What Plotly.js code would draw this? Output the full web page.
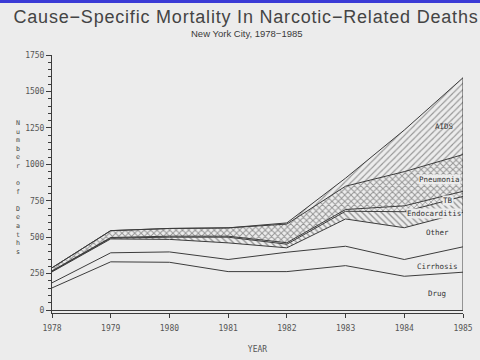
<!DOCTYPE html>
<html>
<head>
<meta charset="utf-8">
<script src="https://cdn.plot.ly/plotly-3.0.1.min.js"></script>
<style>
html,body{margin:0;padding:0;background:#ececec;}
#chart{width:480px;height:360px;position:relative;}
#bar{position:absolute;left:0;top:0;width:480px;height:3px;background:#3b3bd6;z-index:10;}
#chart .gtitle{letter-spacing:0.8px;}
</style>
</head>
<body>
<div id="bar"></div>
<div id="chart"></div>
<script>
// ---- data ----
const years = [1978, 1979, 1980, 1981, 1982, 1983, 1984, 1985];
const drug         = [152, 331, 328, 264, 264, 305, 232, 260];
const cirrhosis    = [35, 62, 71, 83, 133, 133, 115, 174];
const other        = [75, 95, 86, 114, 30, 187, 218, 236];
const endocarditis = [4, 6, 15, 39, 25, 53, 110, 110];
const tb           = [3, 4, 7, 7, 10, 12, 40, 35];
const pneumonia    = [21, 47, 53, 57, 128, 160, 235, 252];
const aids         = [0, 0, 0, 0, 8, 55, 285, 527];
const yTicks = [0, 250, 500, 750, 1000, 1250, 1500, 1750];
const seriesNames = ['Drug', 'Cirrhosis', 'Other', 'Endocarditis', 'TB', 'Pneumonia', 'AIDS'];

const ink = '#3c3c3c';
const bg = '#ececec';
const mono = 'DejaVu Sans Mono, monospace';

function layer(name, vals, pattern) {
  const t = {
    x: years, y: vals, name: name, type: 'scatter', mode: 'lines',
    stackgroup: 'one', line: {color: ink, width: 1},
    fillcolor: 'rgba(0,0,0,0)', hoverinfo: 'skip'
  };
  if (pattern) t.fillpattern = Object.assign({fgcolor: '#3a3a3a', bgcolor: 'rgba(0,0,0,0)', fillmode: 'overlay'}, pattern);
  return t;
}

const data = [
  layer(seriesNames[0], drug),
  layer(seriesNames[1], cirrhosis),
  layer(seriesNames[2], other),
  layer(seriesNames[3], endocarditis, {shape: '\\', size: 4.5, solidity: 0.3}),
  layer(seriesNames[4], tb, {shape: 'x', size: 4, solidity: 0.35}),
  layer(seriesNames[5], pneumonia, {shape: 'x', size: 4.5, solidity: 0.38}),
  layer(seriesNames[6], aids, {shape: '/', size: 4.5, solidity: 0.25})
];

// right-hand edge of the stacked polygons at the last year
const last = years.length - 1;
const total = [drug, cirrhosis, other, endocarditis, tb, pneumonia, aids].reduce((s, a) => s + a[last], 0);
data.push({x: [years[last], years[last]], y: [0, total], type: 'scatter', mode: 'lines',
  line: {color: ink, width: 1}, hoverinfo: 'skip', showlegend: false});

const labelFont = {family: mono, size: 7.5, color: '#333'};
function lab(text, x, y, withBg) {
  return {text: text, x: x, y: y, xref: 'x', yref: 'y', showarrow: false,
    font: labelFont, bgcolor: withBg ? bg : 'rgba(0,0,0,0)', borderpad: 0};
}

const layout = {
  width: 480, height: 360,
  margin: {l: 52, r: 17, t: 55, b: 47},
  paper_bgcolor: bg, plot_bgcolor: bg,
  showlegend: false,
  title: {
    text: 'Cause−Specific Mortality In Narcotic−Related Deaths',
    font: {family: 'Liberation Sans, Arial, sans-serif', size: 18, color: '#444'},
    x: 246 / 480, xref: 'container', xanchor: 'center',
    y: 1 - 17 / 360, yref: 'container', yanchor: 'middle'
  },
  xaxis: {
    range: [1978, 1985], dtick: 1, tick0: 1978,
    showline: true, linecolor: ink, linewidth: 1,
    ticks: 'outside', ticklen: 4, tickcolor: ink,
    ticklabelstandoff: 3,
    showgrid: false, zeroline: false,
    tickfont: {family: mono, size: 8, color: '#555'},
    title: {text: 'YEAR', font: {family: mono, size: 8, color: '#555'}, standoff: 14}
  },
  yaxis: {
    range: [-20, 1750], tickvals: yTicks,
    showline: true, linecolor: ink, linewidth: 1,
    ticks: 'outside', ticklen: 5, tickcolor: ink,
    minor: {dtick: 50, tick0: 0, ticks: 'outside', ticklen: 3, tickcolor: ink, showgrid: false},
    showgrid: false, zeroline: true, zerolinecolor: ink, zerolinewidth: 1,
    tickfont: {family: mono, size: 8, color: '#555'}
  },
  annotations: [
    {text: 'New York City, 1978−1985', xref: 'paper', yref: 'paper', x: (247 - 52) / 411, y: (313 - 33) / 258,
      xanchor: 'center', yanchor: 'middle',
      showarrow: false, font: {family: 'Liberation Sans, Arial, sans-serif', size: 9.5, color: '#3a3a3a'}},
    {text: 'N<br>u<br>m<br>b<br>e<br>r<br> <br>o<br>f<br> <br>D<br>e<br>a<br>t<br>h<br>s',
      xref: 'paper', yref: 'paper', x: (18 - 52) / 411, y: (313 - 187) / 258, showarrow: false,
      xanchor: 'center', yanchor: 'middle',
      font: {family: mono, size: 6.6, color: '#444'}, align: 'center'},
    lab('AIDS', 1984.68, 1259, false),
    lab('Pneumonia', 1984.6, 893, true),
    lab('TB', 1984.74, 751, true),
    lab('Endocarditis', 1984.5, 662, true),
    lab('Other', 1984.56, 532, false),
    lab('Cirrhosis', 1984.56, 298, false),
    lab('Drug', 1984.56, 113, false)
  ]
};

Plotly.newPlot('chart', data, layout, {displayModeBar: false, staticPlot: true});
</script>
</body>
</html>
